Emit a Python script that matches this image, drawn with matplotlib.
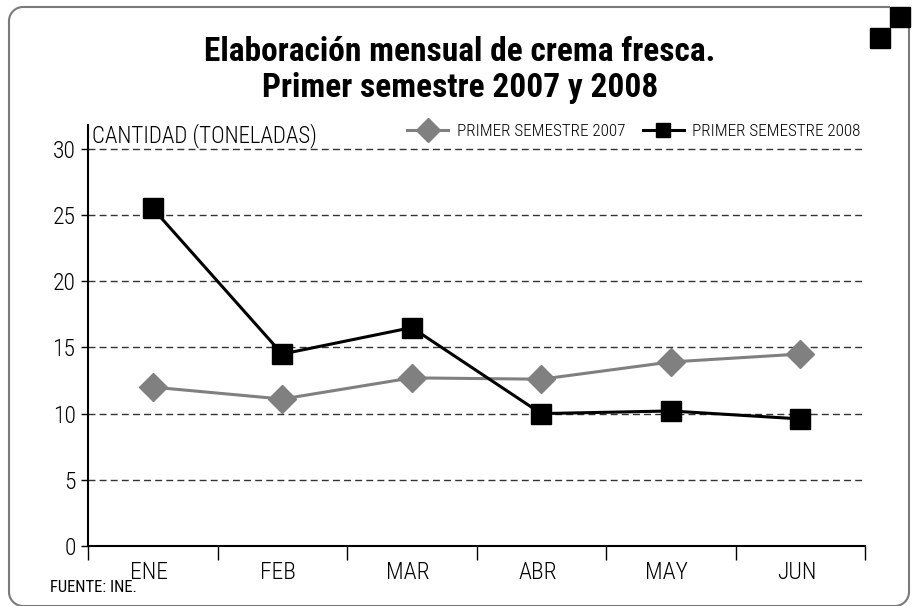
import matplotlib
matplotlib.use("Agg")
import matplotlib.pyplot as plt
from matplotlib.patches import Rectangle, PathPatch
from matplotlib.path import Path
from matplotlib.lines import Line2D
from matplotlib import font_manager as fm

names = {f.name for f in fm.fontManager.ttflist}
cond = None
for cand in ["Roboto Condensed", "Liberation Sans Narrow", "DejaVu Sans Condensed"]:
    if cand in names:
        cond = cand
        break
if cond is None:
    cond = "DejaVu Sans"
plt.rcParams['font.family'] = [cond, 'DejaVu Sans']

months = ["ENE", "FEB", "MAR", "ABR", "MAY", "JUN"]
s2007 = [12.0, 11.1, 12.7, 12.6, 13.9, 14.5]
s2008 = [25.5, 14.5, 16.5, 10.0, 10.2, 9.6]
yticks = [0, 5, 10, 15, 20, 25, 30]

W, H = 914, 606
fig = plt.figure(figsize=(W / 100, H / 100), dpi=100)

# background decoration axes in pixel coordinates
bg = fig.add_axes([0, 0, 1, 1], zorder=0)
bg.set_xlim(0, W)
bg.set_ylim(H, 0)
bg.axis("off")
L, T, R, B, r = 9, 7, 909, 606, 14
k = 0.55
verts = [(890, T), (L + r, T),
         (L + r - r * k, T), (L, T + r - r * k), (L, T + r),
         (L, B - r),
         (L, B - r + r * k), (L + r - r * k, B), (L + r, B),
         (R - r, B),
         (R - r + r * k, B), (R, B - r + r * k), (R, B - r),
         (R, 27)]
codes = [Path.MOVETO, Path.LINETO,
         Path.CURVE4, Path.CURVE4, Path.CURVE4,
         Path.LINETO,
         Path.CURVE4, Path.CURVE4, Path.CURVE4,
         Path.LINETO,
         Path.CURVE4, Path.CURVE4, Path.CURVE4,
         Path.LINETO]
bg.add_patch(PathPatch(Path(verts, codes), fill=False, edgecolor="#7a7a7a",
                       linewidth=1.5))
bg.add_patch(Rectangle((870, 28), 20, 20, color="black"))
bg.add_patch(Rectangle((890, 7), 20, 20, color="black"))

ax = fig.add_axes([88 / W, 60 / H, (865 - 88) / W, (546 - 125) / H], zorder=1)
ax.patch.set_alpha(0)
x = list(range(len(months)))
ax.plot(x, s2007, color="#808080", linewidth=2.2, marker="D", markersize=14,
        label="PRIMER SEMESTRE 2007", zorder=3)
ax.plot(x, s2008, color="black", linewidth=2.2, marker="s", markersize=15,
        label="PRIMER SEMESTRE 2008", zorder=4)

ax.set_xlim(-0.5, len(months) - 0.5)
ax.set_ylim(0, 31.8)
ax.set_yticks(yticks)
ax.set_yticklabels([str(v) for v in yticks], fontsize=17, fontweight="light")
for v in yticks[1:]:
    ax.axhline(v, color="#333333", linewidth=1, linestyle=(0, (5, 3)), zorder=1)

ax.set_xticks([i - 0.5 for i in range(len(months) + 1)])
ax.set_xticklabels([])
ax.set_xticks([i - 0.03 for i in x], minor=True)
ax.set_xticklabels(months, minor=True, fontsize=17, fontweight="light")
ax.tick_params(axis="x", which="major", length=10, width=1, direction="out", color="black")
ax.tick_params(axis="x", which="minor", length=0, pad=11)
ax.tick_params(axis="y", length=5, width=1, color="black", pad=4)

for s in ["top", "right"]:
    ax.spines[s].set_visible(False)
ax.spines["left"].set_linewidth(1.5)
ax.spines["bottom"].set_linewidth(1.5)

ax.text(0.005, 1.005, "CANTIDAD (TONELADAS)", transform=ax.transAxes,
        fontsize=16.5, fontweight="light", ha="left", va="top")

handles = [Line2D([], [], color="#808080", linewidth=2.2, marker="D", markersize=12),
           Line2D([], [], color="black", linewidth=2.2, marker="s", markersize=10)]
leg = ax.legend(handles, ["PRIMER SEMESTRE 2007", "PRIMER SEMESTRE 2008"],
                loc="upper right", bbox_to_anchor=(1.014, 1.04), ncol=2, frameon=False,
                prop={"size": 12.3, "weight": "light"}, handlelength=2.4,
                columnspacing=1.0, handletextpad=0.5)

fig.text(460 / W, 1 - 52 / H, "Elaboración mensual de crema fresca.", ha="center",
         va="center", fontsize=24, fontweight="heavy")
fig.text(460 / W, 1 - 88 / H, "Primer semestre 2007 y 2008", ha="center",
         va="center", fontsize=24, fontweight="heavy")
fig.text(50 / W, 1 - 587 / H, "FUENTE: INE.", ha="left", va="center", fontsize=12,
         fontweight="normal")

fig.savefig("out.png", dpi=100)
